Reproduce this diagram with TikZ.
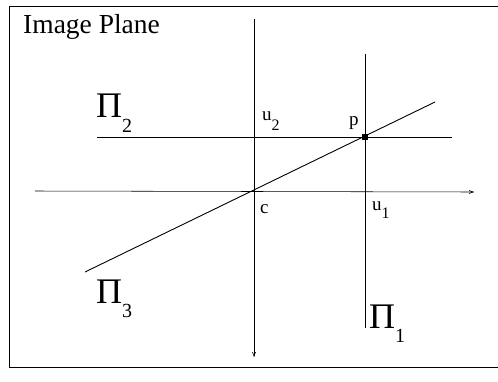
\documentclass[tikz,border=0pt]{standalone}
\usepackage{fontspec}
\setmainfont{Liberation Serif}
\newfontfamily\figserif{Liberation Serif}
\usetikzlibrary{arrows.meta}
\newcommand{\mylab}[5]{{\fontsize{#3}{#3}\selectfont #1}\raisebox{-#5}{\fontsize{#4}{#4}\selectfont #2}}
\begin{document}
\begin{tikzpicture}[x=1pt,y=-1pt,
  axis/.style={line width=0.55pt,-{To[length=5pt,width=4pt]}},
  plane/.style={line width=0.9pt},
  frame/.style={line width=1pt},
  lbl/.style={inner sep=0pt,anchor=base west,font=\figserif}]
\useasboundingbox (0,0) rectangle (498,381);
% frame
\coordinate (ftr) at (498,6);
\coordinate (ftl) at (9,6);
\coordinate (fbl) at (9,367);
\coordinate (fbr) at (498,367);
\draw[frame] (ftr) -- (ftl) -- (fbl) -- (fbr);
\node[lbl] (title) at (23,33) {\fontsize{27.5}{27.5}\selectfont Image Plane};
% axes
\coordinate (vtop) at (254,19);
\coordinate (vbot) at (254,357);
\coordinate (hl) at (35,191);
\coordinate (hr) at (474,192);
\draw[axis] (vtop) -- (vbot);
\draw[axis] (hl) -- (hr);
% planes
\coordinate (p2l) at (97,137);
\coordinate (p2r) at (452,137);
\coordinate (p1t) at (365,54);
\coordinate (p1b) at (365,328);
\coordinate (p3a) at (85,272);
\coordinate (p3b) at (435,102);
\draw[plane] (p2l) -- (p2r);
\draw[plane] (p1t) -- (p1b);
\draw[plane] (p3a) -- (p3b);
\node[fill=black,inner sep=0pt,minimum size=6pt] (p) at (365,137) {};
% labels
\node[lbl] (L2) at (96,117) {\mylab{Π}{2}{36}{20}{15pt}};
\node[lbl] (L3) at (96,303) {\mylab{Π}{3}{36}{20}{14pt}};
\node[lbl] (L1) at (369,328) {\mylab{Π}{1}{36}{20}{14pt}};
\node[lbl] (lu2) at (262,120) {\mylab{u}{2}{19}{16}{10pt}};
\node[lbl] (lu1) at (372,210) {\mylab{u}{1}{19}{16}{8pt}};
\node[lbl] (lp) at (349,125) {\fontsize{19}{19}\selectfont p};
\node[lbl] (lc) at (260,213) {\fontsize{19}{19}\selectfont c};
\end{tikzpicture}
\end{document}
